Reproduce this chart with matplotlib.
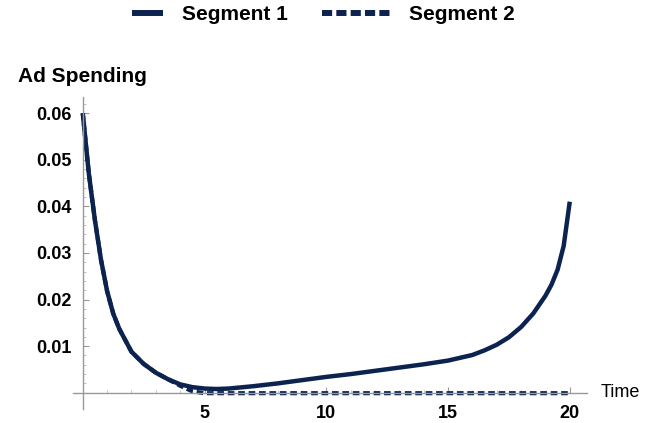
import numpy as np
import matplotlib.pyplot as plt
from matplotlib.lines import Line2D

# Data
seg1_x = [0, 0.25, 0.5, 0.75, 1.0, 1.25, 1.5, 2.0, 2.5, 3.0, 3.5, 4.0, 4.5, 5, 5.5, 6, 7, 8, 9,
          10, 11, 12, 13, 14, 15, 16, 16.5, 17, 17.5, 18, 18.5, 19, 19.25, 19.5, 19.75, 20]
seg1_y = [0.060, 0.047, 0.037, 0.0285, 0.0218, 0.0170, 0.0137, 0.0088, 0.0062, 0.0043, 0.0029,
          0.0018, 0.0012, 0.0009, 0.0008, 0.0009, 0.0014, 0.0020, 0.0027, 0.0034, 0.0040, 0.0047,
          0.0054, 0.0061, 0.0069, 0.0081, 0.0091, 0.0103, 0.0119, 0.0141, 0.0170, 0.0208, 0.0232,
          0.0264, 0.0315, 0.041]

seg2_x = [0, 0.25, 0.5, 0.75, 1.0, 1.25, 1.5, 2.0, 2.5, 3.0, 3.5, 4.0, 4.5, 5, 6, 8, 10, 12, 14, 16, 18, 20]
seg2_y = [0.060, 0.047, 0.037, 0.0285, 0.0218, 0.0170, 0.0137, 0.0088, 0.0062, 0.0043, 0.0029,
          0.0015, 0.0003, -0.0001, -0.0001, -0.0001, -0.0001, -0.0001, -0.0001, -0.0001, -0.0001, -0.0001]

navy = '#0c2350'
plt.rcParams['font.family'] = ['Liberation Sans', 'DejaVu Sans']

fig = plt.figure(figsize=(6.52, 4.23), dpi=100)
ax = fig.add_axes([0.112, 0.033, 0.788, 0.738])

ax.plot(seg1_x, seg1_y, color=navy, lw=3.2, solid_capstyle='butt', solid_joinstyle='round')
ax.plot(seg2_x, seg2_y, color=navy, lw=3.0, linestyle=(0, (1.6, 0.9)), dash_capstyle='butt')

ax.set_xlim(-0.4, 20.7)
ax.set_ylim(-0.0035, 0.0635)

# Axes crossing at the origin
for s in ['top', 'right']:
    ax.spines[s].set_visible(False)
ax.spines['left'].set_position(('data', 0))
ax.spines['bottom'].set_position(('data', 0))
for s in ['left', 'bottom']:
    ax.spines[s].set_color('#999999')
    ax.spines[s].set_linewidth(1.0)
ax.set_axisbelow(True)

ax.set_xticks([5, 10, 15, 20])
ax.set_xticklabels(['5', '10', '15', '20'])
ax.set_yticks([0.01, 0.02, 0.03, 0.04, 0.05, 0.06])
ax.set_yticklabels(['0.01', '0.02', '0.03', '0.04', '0.05', '0.06'])
ax.set_xticks(np.arange(1, 21), minor=True)
ax.set_yticks(np.arange(0.002, 0.063, 0.002), minor=True)
ax.tick_params(which='major', direction='in', length=4, color='#999999',
               labelsize=13, pad=8)
ax.tick_params(which='minor', direction='in', length=2, color='#bbbbbb')
ax.tick_params(axis='x', which='major', pad=9)
for lbl in ax.get_xticklabels() + ax.get_yticklabels():
    lbl.set_fontweight('bold')

ax.text(21.25, 0, 'Time', fontsize=13, va='center', ha='left')
fig.text(0.028, 0.806, 'Ad Spending', fontsize=15, fontweight='bold', va='baseline', ha='left')

# Two legend entries with different handle lengths
h1 = Line2D([], [], color=navy, lw=4.3, solid_capstyle='butt')
h2 = Line2D([], [], color=navy, lw=4.3, linestyle=(0, (1.7, 0.7)), dash_capstyle='butt')
leg_kw = dict(loc='center left', frameon=False, prop={'size': 15, 'weight': 'bold'},
              borderpad=0, borderaxespad=0, handletextpad=0.9)
fig.legend(handles=[h1], labels=['Segment 1'], bbox_to_anchor=(0.2025, 0.965),
           handlelength=1.5, **leg_kw)
fig.legend(handles=[h2], labels=['Segment 2'], bbox_to_anchor=(0.494, 0.965),
           handlelength=3.27, **leg_kw)

fig.savefig('out.png', dpi=100)
